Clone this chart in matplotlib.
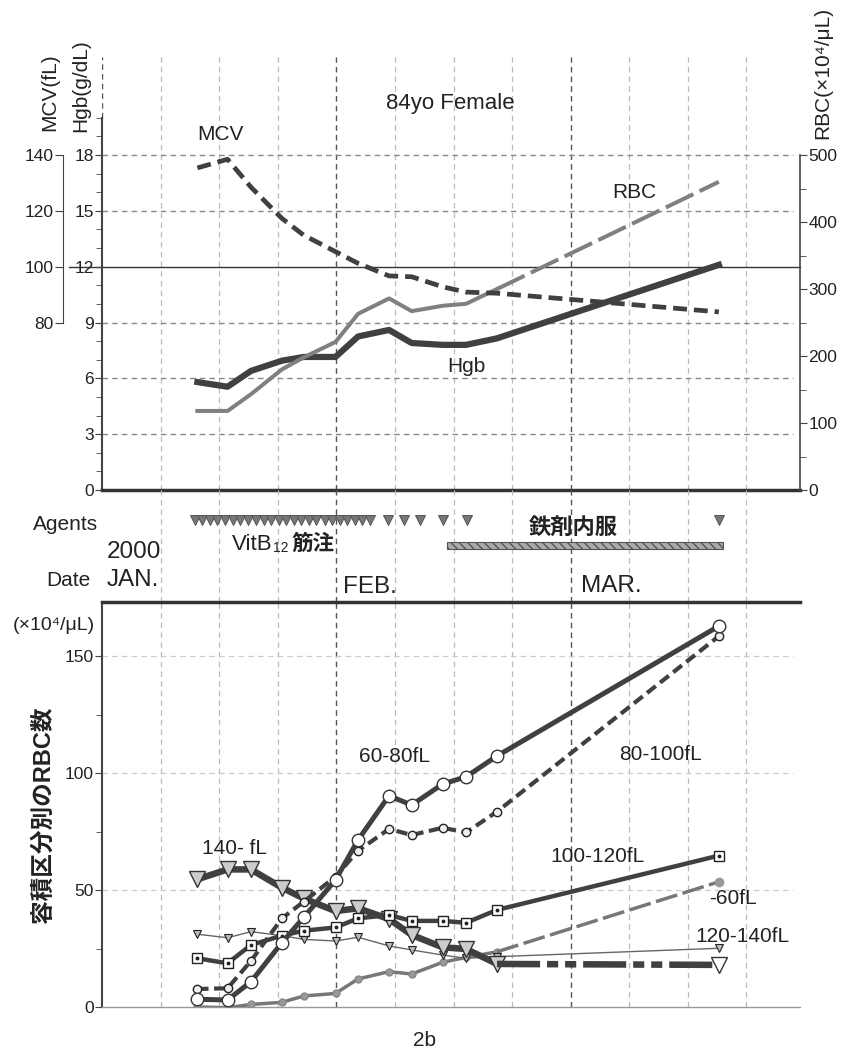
import numpy as np
import matplotlib
matplotlib.use("Agg")
import matplotlib.pyplot as plt

plt.rcParams['font.family'] = ['Liberation Sans', 'DejaVu Sans', 'Noto Sans CJK JP']
plt.rcParams['lines.scale_dashes'] = False
plt.rcParams['hatch.color'] = '#555555'

# x positions are days counted from the left axis (grid every 7 days, FEB at 28, MAR at 56)
days = [11.4, 15.0, 17.8, 21.5, 24.1, 27.9, 30.6, 34.3, 37.0, 40.7, 43.5, 47.2, 73.7]

# top panel
hgb = [5.8, 5.55, 6.4, 6.95, 7.15, 7.15, 8.25, 8.6, 7.9, 7.8, 7.8, 8.15, 12.1]
rbc = [118, 118, 143, 180, 198, 221, 263, 286, 267, 275, 278, 300, 460]
mcv = [135.4, 138.5, 128.5, 117.3, 111.3, 105.4, 101.2, 96.7, 96.4, 92.8, 90.9, 90.5, 83.8]

# agents
vitb12_days = [11.1, 12.0, 12.9, 13.8, 14.7, 15.6, 16.5, 17.5, 18.4, 19.3, 20.2, 21.1,
               22.0, 22.9, 23.8, 24.7, 25.6, 26.6, 27.5, 28.4, 29.3, 30.2, 31.1, 32.0,
               34.2, 36.1, 38.0, 40.7, 43.6, 73.7]
iron_start, iron_end = 41.2, 74.2

# bottom panel: RBC count by volume class (x10^4/uL)
v_60_80 = [3.3, 3.0, 10.8, 27.5, 38.3, 54.3, 71.4, 90.3, 86.3, 95.3, 98.4, 107.3, 162.8]
v_80_100 = [7.7, 8.0, 19.7, 37.9, 45.0, 55.7, 66.8, 76.1, 73.5, 76.6, 74.6, 83.5, 158.5]
v_100_120 = [20.8, 18.7, 26.5, 30.5, 32.6, 34.0, 37.9, 39.3, 36.8, 36.8, 36.0, 41.5, 64.7]
v_120_140 = [31.1, 29.6, 32.2, 30.5, 28.9, 28.2, 29.8, 26.1, 24.4, 22.2, 20.8, 21.5, 25.1]
v_140 = [54.6, 58.8, 58.8, 51.0, 46.4, 41.0, 42.2, 37.6, 30.8, 25.5, 24.8, 18.4, 18.0]
v_60 = [0.0, -0.3, 1.1, 2.0, 4.7, 5.8, 12.0, 15.1, 14.1, 19.1, 21.2, 23.6, 53.5]

grid_days = [7, 14, 21, 28, 35, 42, 49, 56, 63, 70, 77]
month_days = [28, 56]
XMAX = 83.4

W, H = 851, 1057
fig = plt.figure(figsize=(W / 100, H / 100), dpi=100)


def fx(x):
    return x / W


def fy(y):
    return 1 - y / H


DARK = '#404040'
GRAY = '#808080'
TXT = '#222222'
L, R = 102, 800
TICK_FS = 12.5
LAB_FS = 15


def vgrid(ax):
    for d in grid_days:
        if d in month_days:
            ax.axvline(d, color='#555555', ls=(0, (4, 3)), lw=1.0, zorder=0)
        else:
            ax.axvline(d, color='#bbbbbb', ls=(0, (4, 3)), lw=0.9, zorder=0)


# ---------------- top panel ----------------
ax1 = fig.add_axes([fx(L), fy(490), fx(R - L), (490 - 57) / H])
ax1.set_xlim(0, XMAX)
ax1.set_ylim(0, 23.27)
ax1.patch.set_alpha(0)
vgrid(ax1)
for v in [3, 6, 9, 15, 18]:
    ax1.plot([0, 82.6], [v, v], color='#888888', ls=(0, (4, 3)), lw=1.0, zorder=0)
ax1.plot([-4, XMAX], [12, 12], color='#333333', lw=1.0, clip_on=False, zorder=1)
ax1.plot([0, 0], [20, 23.27], color='#555555', ls=(0, (4, 3)), lw=1.0)
for s in ['top', 'right']:
    ax1.spines[s].set_visible(False)
ax1.spines['left'].set_bounds(0, 20)
ax1.spines['left'].set_color('#444444')
ax1.spines['left'].set_linewidth(1.5)
ax1.spines['bottom'].set_color('#333333')
ax1.spines['bottom'].set_linewidth(2.5)
ax1.set_xticks([])
ax1.set_yticks([0, 3, 6, 9, 12, 15, 18])
ax1.set_yticks(np.arange(1, 21), minor=True)
ax1.tick_params(axis='y', which='major', labelsize=TICK_FS, colors='#444444', labelcolor=TXT, length=5, pad=1)
ax1.tick_params(axis='y', which='minor', colors='#444444', length=4)

ax_rbc = ax1.twinx()
ax_rbc.set_ylim(0, 646.4)
for s in ['top', 'left', 'bottom']:
    ax_rbc.spines[s].set_visible(False)
ax_rbc.spines['right'].set_bounds(0, 500)
ax_rbc.spines['right'].set_color('#444444')
ax_rbc.spines['right'].set_linewidth(1.2)
ax_rbc.set_yticks([0, 100, 200, 300, 400, 500])
ax_rbc.set_yticks([50, 150, 250, 350, 450], minor=True)
ax_rbc.tick_params(axis='y', which='major', labelsize=TICK_FS, colors='#444444', labelcolor=TXT, length=5, pad=1)
ax_rbc.tick_params(axis='y', which='minor', colors='#444444', length=4)

ax_mcv = ax1.twinx()
ax_mcv.set_ylim(20, 20 + 23.27 * 20 / 3)
for s in ['top', 'right', 'bottom']:
    ax_mcv.spines[s].set_visible(False)
ax_mcv.spines['left'].set_visible(True)
ax_mcv.spines['left'].set_position(('axes', (63 - L) / (R - L)))
ax_mcv.spines['left'].set_bounds(80, 140)
ax_mcv.spines['left'].set_color('#444444')
ax_mcv.yaxis.set_ticks_position('left')
ax_mcv.set_yticks([80, 100, 120, 140])
ax_mcv.tick_params(axis='y', labelsize=TICK_FS, colors='#444444', labelcolor=TXT, length=6, pad=1)

ax_rbc.plot(days[:12], rbc[:12], color=GRAY, lw=2.9, zorder=3)
ax_rbc.plot(days[11:], rbc[11:], color=GRAY, lw=2.9, dashes=(22, 5), zorder=3)
ax1.plot(days, hgb, color=DARK, lw=4.5, zorder=4)
ax_mcv.plot(days, mcv, color=DARK, lw=3.4, dashes=(10, 5), zorder=4)

fig.text(fx(450), fy(103), '84yo Female', fontsize=16, ha='center', va='center', color=TXT)
fig.text(fx(220), fy(134), 'MCV', fontsize=LAB_FS, ha='center', va='center', color=TXT)
fig.text(fx(634), fy(193), 'RBC', fontsize=LAB_FS, ha='center', va='center', color=TXT)
fig.text(fx(466), fy(367), 'Hgb', fontsize=LAB_FS, ha='center', va='center', color=TXT)
fig.text(fx(50), fy(92), 'MCV(fL)', fontsize=LAB_FS, rotation=90, ha='center', va='center', color=TXT)
fig.text(fx(81), fy(86), 'Hgb(g/dL)', fontsize=LAB_FS, rotation=90, ha='center', va='center', color=TXT)
fig.text(fx(823), fy(73), 'RBC(\u00d710\u2074/\u03bcL)', fontsize=LAB_FS, rotation=90,
         ha='center', va='center', color=TXT)

# ---------------- middle panel (agents / dates) ----------------
axm = fig.add_axes([fx(L), fy(602), fx(R - L), 112 / H])
axm.set_xlim(0, XMAX)
axm.set_ylim(0, 1)
axm.axis('off')
vgrid(axm)
axm.plot(vitb12_days, [0.73] * len(vitb12_days), ls='none', marker='v', ms=6.5,
         mfc='#777777', mec='#555555', mew=0.7)
axm.barh(0.505, iron_end - iron_start, left=iron_start, height=0.065,
         color='#aaaaaa', edgecolor='#555555', lw=0.8, hatch='\\\\\\\\')
fig.text(fx(98), fy(524), 'Agents', fontsize=LAB_FS, ha='right', va='center', color=TXT)
fig.text(fx(91), fy(580), 'Date', fontsize=LAB_FS, ha='right', va='center', color=TXT)
fig.text(fx(107), fy(552), '2000', fontsize=17.5, ha='left', va='center', color=TXT)
fig.text(fx(107), fy(580), 'JAN.', fontsize=17.5, ha='left', va='center', color=TXT)
fig.text(fx(343), fy(587), 'FEB.', fontsize=17.5, ha='left', va='center', color=TXT)
fig.text(fx(581), fy(586), 'MAR.', fontsize=17.5, ha='left', va='center', color=TXT)
fig.text(fx(232), fy(545), 'VitB', fontsize=16, ha='left', va='center', color=TXT)
fig.text(fx(272.5), fy(548.5), '12', fontsize=10, ha='left', va='center', color=TXT)
fig.text(fx(292), fy(544), '筋注', fontsize=15.5, fontweight='bold', ha='left', va='center', color=TXT)
fig.text(fx(573), fy(528), '鉄剤内服', fontsize=16, fontweight='bold', ha='center', va='center', color=TXT)

# ---------------- bottom panel ----------------
axb = fig.add_axes([fx(L), fy(1007), fx(R - L), 405 / H])
axb.set_xlim(0, XMAX)
axb.set_ylim(0, 173.1)
axb.patch.set_alpha(0)
vgrid(axb)
for v in [50, 100, 150]:
    axb.plot([0, 82.6], [v, v], color='#cccccc', ls=(0, (4, 3)), lw=0.9, zorder=0)
axb.spines['right'].set_visible(False)
axb.spines['top'].set_color('#333333')
axb.spines['top'].set_linewidth(2.5)
axb.spines['left'].set_color('#444444')
axb.spines['left'].set_linewidth(1.5)
axb.spines['bottom'].set_color('#999999')
axb.spines['bottom'].set_linewidth(1.0)
axb.set_xticks([])
axb.set_yticks([0, 50, 100, 150])
axb.set_yticks([25, 75, 125], minor=True)
axb.tick_params(axis='y', which='major', labelsize=TICK_FS, colors='#444444', labelcolor=TXT, length=5, pad=1)
axb.tick_params(axis='y', which='minor', colors='#444444', length=4)

# -60fL
axb.plot(days[:12], v_60[:12], color='#777777', lw=2.5, marker='o', ms=5,
         mfc='#999999', mec='#888888', zorder=3)
axb.plot(days[11:], v_60[11:], color='#777777', lw=2.5, dashes=(16, 4), zorder=3)
axb.plot(days[12:], v_60[12:], ls='none', marker='o', ms=6, mfc='#999999', mec='#999999', zorder=3)
# 120-140fL
axb.plot(days, v_120_140, color='#666666', lw=1.0, marker='v', ms=5.5,
         mfc='#bbbbbb', mec='#222222', mew=0.8, zorder=4)
# 100-120fL
axb.plot(days, v_100_120, color=DARK, lw=3.2, marker='s', ms=6.5,
         mfc='white', mec='#222222', mew=1.0, zorder=5)
axb.plot(days, v_100_120, ls='none', marker='o', ms=1.8, mfc='#222222', mec='#222222', zorder=6)
# 140- fL
axb.plot(days[:12], v_140[:12], color=DARK, lw=4.7, marker='v', ms=11,
         mfc='#cccccc', mec='#333333', mew=1.0, zorder=4)
axb.plot(days[11:], v_140[11:], color=DARK, lw=4.7, dashes=(31, 5, 8, 5, 8, 5), zorder=4)
axb.plot(days[12:], v_140[12:], ls='none', marker='v', ms=11, mfc='white', mec='#333333', mew=1.0, zorder=5)
# 80-100fL
axb.plot(days, v_80_100, color=DARK, lw=3.0, dashes=(8, 4), marker='o', ms=6,
         mfc='#eeeeee', mec='#222222', mew=1.0, zorder=6)
# 60-80fL
axb.plot(days, v_60_80, color=DARK, lw=3.6, marker='o', ms=9,
         mfc='white', mec='#333333', mew=1.0, zorder=7)

fig.text(fx(395), fy(757), '60-80fL', fontsize=LAB_FS, ha='center', va='center', color=TXT)
fig.text(fx(660), fy(755), '80-100fL', fontsize=LAB_FS, ha='center', va='center', color=TXT)
fig.text(fx(597), fy(857), '100-120fL', fontsize=LAB_FS, ha='center', va='center', color=TXT)
fig.text(fx(733), fy(899), '-60fL', fontsize=LAB_FS, ha='center', va='center', color=TXT)
fig.text(fx(742), fy(936), '120-140fL', fontsize=LAB_FS, ha='center', va='center', color=TXT)
fig.text(fx(235), fy(849), '140- fL', fontsize=LAB_FS, ha='center', va='center', color=TXT)
fig.text(fx(54), fy(626), '(\u00d710\u2074/\u03bcL)', fontsize=14, ha='center', va='center', color=TXT)
fig.text(fx(43), fy(815), '容積区分別のRBC数', fontsize=17, fontweight='bold', rotation=90,
         ha='center', va='center', color=TXT)
fig.text(fx(425), fy(1040), '2b', fontsize=15, ha='center', va='center', color=TXT)

fig.savefig('out.png', dpi=100)
